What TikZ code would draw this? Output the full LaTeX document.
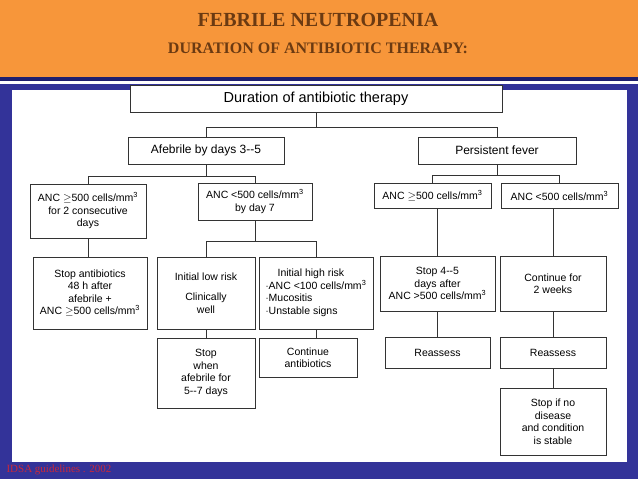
\documentclass[tikz,border=0pt]{standalone}
\usepackage{fontspec}
\setmainfont{Liberation Serif}
\newfontfamily\boxfont{Liberation Sans}
\definecolor{orangehead}{HTML}{F7963A}
\definecolor{browntext}{HTML}{6B3A12}
\definecolor{navyband}{HTML}{333399}
\definecolor{navyline}{HTML}{1F1F6E}
\definecolor{footred}{HTML}{C8283C}
\tikzset{
  flowbox/.style={draw=black!80, line width=0.7pt, fill=white, inner sep=1pt,
    font=\boxfont\fontsize{10.5}{12.5}\selectfont, align=center},
  link/.style={draw=black!80, line width=0.7pt}
}
\newcommand{\mmc}{mm\textsuperscript{3}}
\begin{document}
\begin{tikzpicture}[x=1pt,y=-1pt]
        \useasboundingbox (0,0) rectangle (638,479);
        \fill[navyband] (0,0) rectangle (638,479);
        \fill[orangehead] (0,0) rectangle (638,77);
        \fill[navyline] (0,77) rectangle (638,81);
        \fill[white] (0,81) rectangle (638,84);
        \fill[white] (12,90) rectangle (627,462);
        \node[font=\bfseries\fontsize{20}{22}\selectfont, text=browntext] (title) at (318,20) {FEBRILE NEUTROPENIA};
        \node[font=\bfseries\fontsize{16}{18}\selectfont, text=browntext] (subtitle) at (318,48) {DURATION OF ANTIBIOTIC THERAPY:};
        \node[font=\fontsize{11}{12}\selectfont, text=footred, anchor=west] (source) at (3,470) {IDSA guidelines . 2002};
        % first rows
        \node[flowbox, minimum width=372, minimum height=27, font=\boxfont\fontsize{14.5}{16}\selectfont] (dur) at (316,99) {Duration of antibiotic therapy};
        \node[flowbox, minimum width=156, minimum height=27, font=\boxfont\fontsize{12}{14}\selectfont] (afeb) at (206,150.5) {Afebrile by days 3--5};
        \node[flowbox, minimum width=158, minimum height=27, font=\boxfont\fontsize{12}{14}\selectfont] (pers) at (497,150.5) {Persistent fever};
        \node[flowbox, minimum width=116, minimum height=54] (ancA) at (88,211) {ANC $\geq$500 cells/\mmc\\for 2 consecutive\\days};
        \node[flowbox, minimum width=114, minimum height=37] (ancB) at (255,201.5) {ANC <500 cells/\mmc\\by day 7};
        \node[flowbox, minimum width=117, minimum height=25] (ancC) at (432.5,195.5) {ANC $\geq$500 cells/\mmc};
        \node[flowbox, minimum width=117, minimum height=25] (ancD) at (559.5,195.5) {ANC <500 cells/\mmc};
        % third row
        \node[flowbox, minimum width=114, minimum height=72] (stopA) at (90,293) {Stop antibiotics\\48 h after\\afebrile +\\ANC $\geq$500 cells/\mmc};
        \node[flowbox, minimum width=98, minimum height=72] (low) at (206,293) {Initial low risk\\[8pt]Clinically\\well};
        \node[flowbox, minimum width=114, minimum height=72, align=left] (high) at (316,293) {\hspace*{12pt}Initial high risk\\$\cdot$ANC <100 cells/\mmc\\$\cdot$Mucositis\\$\cdot$Unstable signs};
        \node[flowbox, minimum width=115, minimum height=55] (stopB) at (437.5,283.5) {Stop 4--5\\days after\\ANC >500 cells/\mmc};
        \node[flowbox, minimum width=106, minimum height=55] (cont) at (553,283.5) {Continue for\\2 weeks};
        % fourth row
        \node[flowbox, minimum width=98, minimum height=70] (stopC) at (206,373) {Stop\\when\\afebrile for\\5--7 days};
        \node[flowbox, minimum width=98, minimum height=39] (contab) at (308,357.5) {Continue\\antibiotics};
        \node[flowbox, minimum width=105, minimum height=31] (reA) at (437.5,352.5) {Reassess};
        \node[flowbox, minimum width=106, minimum height=31] (reB) at (553,352.5) {Reassess};
        \node[flowbox, minimum width=106, minimum height=67] (stopD) at (553,421.5) {Stop if no\\disease\\and condition\\is stable};
        % connectors
        \draw[link] (dur.south) -- ++(0,14) coordinate (j1);
        \draw[link] (afeb.north) |- (j1) -| (pers.north);
        \draw[link] (afeb.south) -- ++(0,12) coordinate (j2);
        \draw[link] (ancA.north) |- (j2) -| (ancB.north);
        \draw[link] (pers.south) -- ++(0,11) coordinate (j3);
        \draw[link] (ancC.north) |- (j3) -| (ancD.north);
        \draw[link] (ancA.south) -- (ancA.south |- stopA.north);
        \draw[link] (ancB.south) -- ++(0,21) coordinate (j4);
        \draw[link] (low.north) |- (j4) -| (high.north);
        \draw[link] (ancC.south -| stopB.north) -- (stopB.north);
        \draw[link] (ancD.south -| cont.north) -- (cont.north);
        \draw[link] (low.south) -- (stopC.north);
        \draw[link] (high.south) -- (high.south |- contab.north);
        \draw[link] (stopB.south) -- (reA.north);
        \draw[link] (cont.south) -- (reB.north);
        \draw[link] (reB.south) -- (stopD.north);
      \end{tikzpicture}
\end{document}
